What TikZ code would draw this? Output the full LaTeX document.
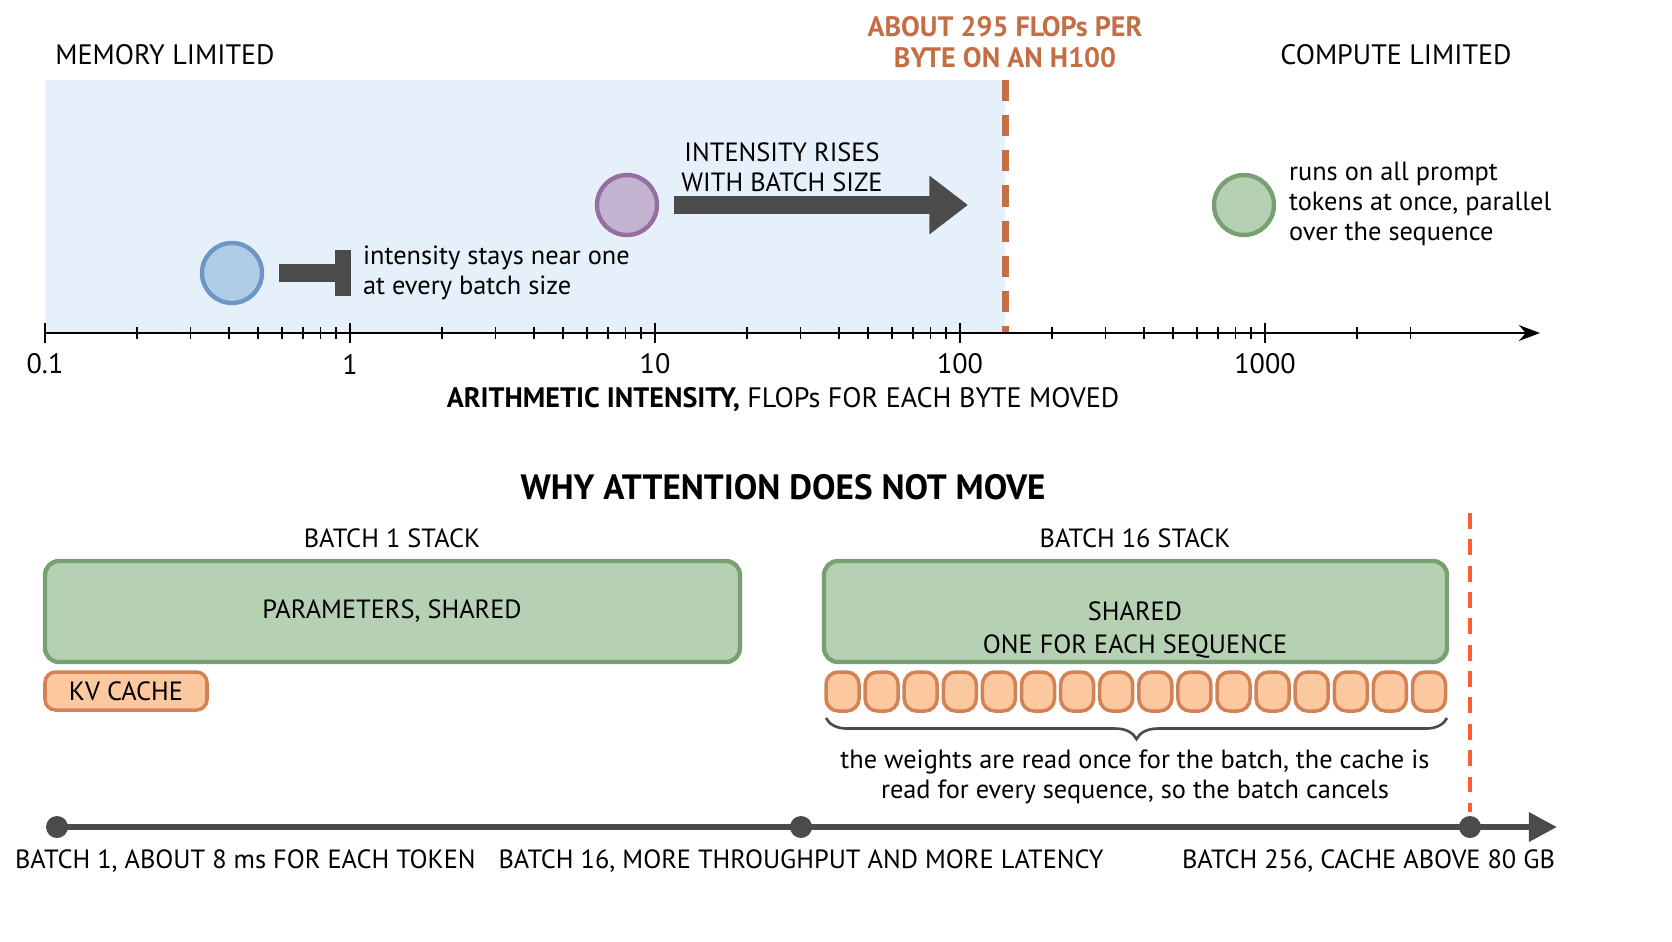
\documentclass[tikz,border=0pt]{standalone}
\usepackage{fontspec}
\setmainfont{PT Sans}
\usetikzlibrary{calc,positioning,arrows.meta,decorations.pathreplacing,backgrounds}
\definecolor{memblue}{RGB}{230,240,250}
\definecolor{rooforange}{RGB}{196,110,70}
\definecolor{boxgreen}{RGB}{181,208,178}
\definecolor{boxgreenD}{RGB}{120,160,115}
\definecolor{cacheorange}{RGB}{252,200,160}
\definecolor{cacheorangeD}{RGB}{210,130,85}
\definecolor{darkgray}{RGB}{75,75,75}
\definecolor{dotblue}{RGB}{176,205,232}
\definecolor{dotblueD}{RGB}{110,150,195}
\definecolor{dotviolet}{RGB}{195,178,208}
\definecolor{dotvioletD}{RGB}{150,110,160}
\begin{document}
\begin{tikzpicture}[x=0.02cm, y=-0.02cm]
\tikzstyle{txt}=[font=\fontsize{15}{17}\selectfont, inner sep=1pt, align=center]
\tikzstyle{ttl}=[font=\fontsize{18}{20}\selectfont\bfseries, inner sep=1pt]
\tikzstyle{stack}=[draw=boxgreenD, fill=boxgreen, line width=2.5pt, rounded corners=8pt]
\tikzstyle{kv}=[draw=cacheorangeD, fill=cacheorange, line width=2pt, rounded corners=6pt]
\tikzstyle{dot}=[circle, minimum size=1.2cm, line width=2.5pt, inner sep=0pt]
\useasboundingbox (0,0) rectangle (1672,941);
\begin{scope}[overlay]
% memory limited region and ridge point
\fill[memblue] (45,80) rectangle (1005,333);
\draw[rooforange, line width=4pt, dash pattern=on 12pt off 8pt] (1005,80) -- (1005,333);
\node[txt, font=\fontsize{16}{18}\selectfont\bfseries, text=rooforange] (ridge) at (1005,42) {ABOUT 295 FLOPs PER\\BYTE ON AN H100};
\node[txt, font=\fontsize{16}{18}\selectfont] (mem) at (165,55) {MEMORY LIMITED};
\node[txt, font=\fontsize{16}{18}\selectfont] (comp) at (1396,55) {COMPUTE LIMITED};
% log axis
\coordinate (ax0) at (45,333);
\coordinate (ax1) at (1540,333);
\draw[-{Stealth[length=12pt]}, line width=1.2pt] (ax0) -- (ax1);
\foreach \d [count=\n from 0] in {0.1,1,10,100,1000}{
  \draw[line width=1.2pt] ({45+305*\n},323) -- ({45+305*\n},343);
  \node[txt, font=\fontsize{16}{18}\selectfont] (lab\n) at ({45+305*\n},364) {\d};
  \ifnum\n<4
  \foreach \m in {2,...,9}{\draw[line width=1pt] ({45+305*\n+305*log10(\m)},327) -- ++(0,12);}
  \fi}
\foreach \m in {2,3}{\draw[line width=1pt] ({1265+305*log10(\m)},327) -- ++(0,12);}
\node[txt, font=\fontsize{16}{18}\selectfont] (axlbl) at (783,400) {\textbf{ARITHMETIC INTENSITY,} FLOPs FOR EACH BYTE MOVED};
% operations
\node[dot, draw=dotblueD, fill=dotblue] (attn) at (232,273) {};
\node[dot, draw=dotvioletD, fill=dotviolet] (ffn) at (627,205) {};
\node[dot, draw=boxgreenD, fill=boxgreen] (prefill) at (1244,205) {};
\coordinate (stop) at (340,273);
\draw[darkgray, line width=10pt] (attn.east) ++(15,0) -- (stop);
\draw[darkgray, line width=9pt] (343,250) -- (343,296);
\node[txt, anchor=west, align=left] (stay) at (361,273) {intensity stays near one\\at every batch size};
\coordinate (rise) at (968,205);
\draw[darkgray, line width=10pt, -{Triangle[length=22pt,width=32pt]}] (ffn.east) ++(15,0) -- (rise);
\node[txt] (riselbl) at (782,167) {INTENSITY RISES\\WITH BATCH SIZE};
\node[txt, anchor=west, align=left] (prelbl) at (1287,204) {runs on all prompt\\tokens at once, parallel\\over the sequence};
% attention stacks
\node[ttl, font=\fontsize{20}{22}\selectfont\bfseries] (why) at (783,487) {WHY ATTENTION DOES NOT MOVE};
\node[txt] (b1) at (392,538) {BATCH 1 STACK};
\draw[stack] (45,561) rectangle (740,662);
\node[txt] (par1) at (392,611) {PARAMETERS, SHARED};
\draw[kv] (45,672) rectangle (207,710);
\node[txt] (kv1) at (126,691) {KV CACHE};
\node[txt] (b16) at (1135,538) {BATCH 16 STACK};
\draw[stack] (824,561) rectangle (1447,662);
\node[txt] (par16) at (1135,611) {SHARED};
\node[txt] (one) at (1135,647) {ONE FOR EACH SEQUENCE};
\foreach \i in {0,...,15}{\draw[kv, rounded corners=7pt] ({826+39.1*\i},672) rectangle ++(33,39);}
\coordinate (brL) at (826,718);
\coordinate (brR) at (1447,718);
\draw[darkgray, line width=1.5pt, decorate, decoration={brace, amplitude=12pt}] (brR) -- (brL);
\node[txt] (cancel) at (1135,777) {the weights are read once for the batch, the cache is\\read for every sequence, so the batch cancels};
\draw[red!60!orange!80, line width=2.5pt, dash pattern=on 9pt off 6pt] (1470,513) -- (1470,812);
% batch timeline
\node[circle, fill=darkgray, minimum size=0.44cm, inner sep=0pt] (t1) at (57,827) {};
\node[circle, fill=darkgray, minimum size=0.44cm, inner sep=0pt] (t16) at (801,827) {};
\node[circle, fill=darkgray, minimum size=0.44cm, inner sep=0pt] (t256) at (1470,827) {};
\coordinate (tend) at (1557,827);
\begin{scope}[on background layer]
\draw[darkgray, line width=3.5pt, -{Triangle[length=16pt,width=16pt]}] (t1.center) -- (tend);
\end{scope}
\node[txt, anchor=west] (l1) at (13,861) {BATCH 1, ABOUT 8 ms FOR EACH TOKEN};
\node[txt] (l16) at (801,861) {BATCH 16, MORE THROUGHPUT AND MORE LATENCY};
\node[txt, anchor=east] (l256) at (1557,861) {BATCH 256, CACHE ABOVE 80 GB};
\end{scope}
\end{tikzpicture}
\end{document}
